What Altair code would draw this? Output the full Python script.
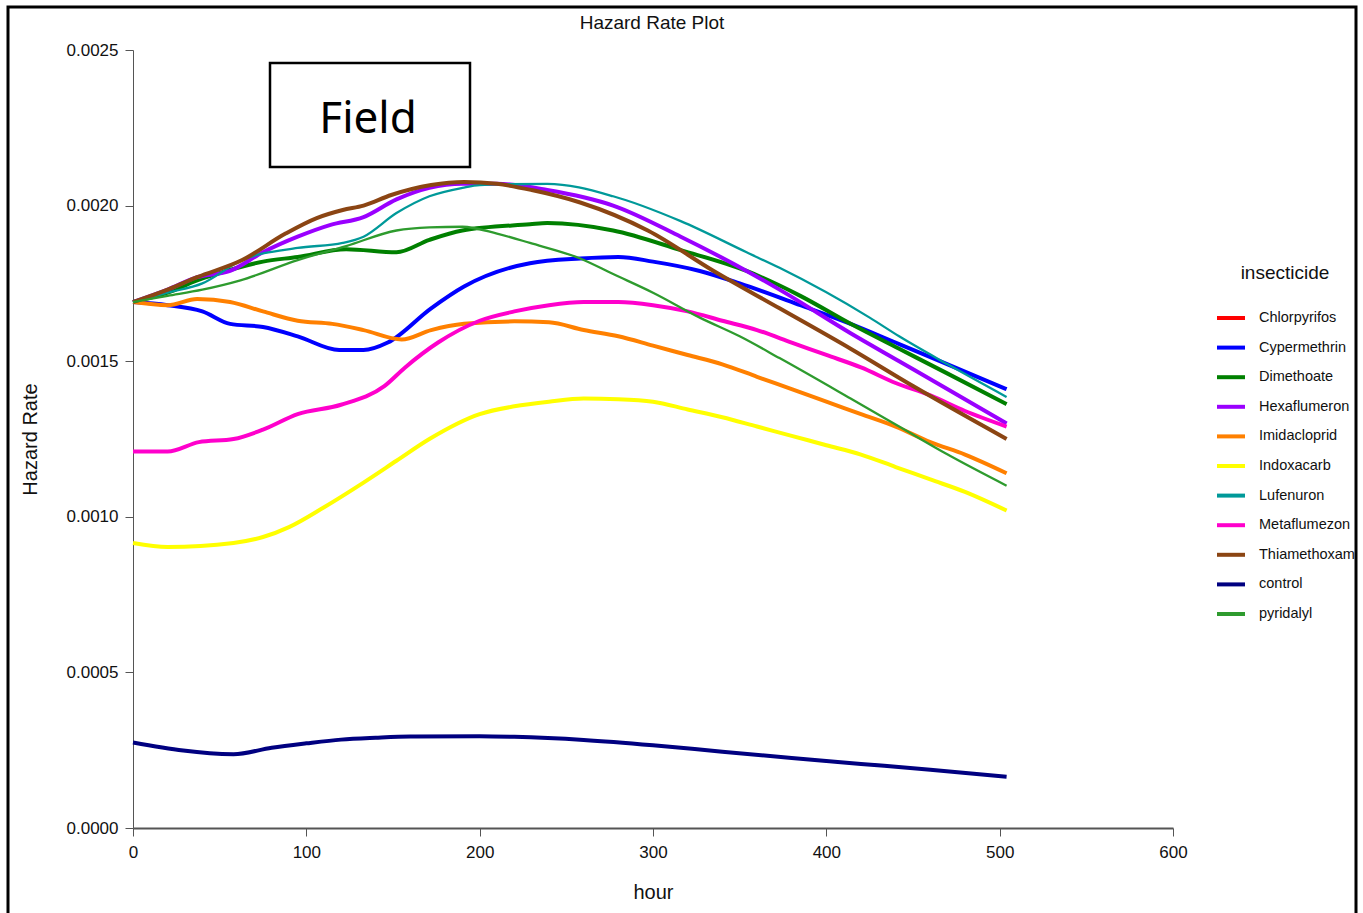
import altair as alt
import pandas as pd

# ---- data ----
series_names = ["Chlorpyrifos", "Cypermethrin", "Dimethoate", "Hexaflumeron",
                "Imidacloprid", "Indoxacarb", "Lufenuron", "Metaflumezon",
                "Thiamethoxam", "control", "pyridalyl"]
series_colors = ["#FF0000", "#0000FF", "#008000", "#9A00FF", "#FF8000", "#FFFF00",
                 "#009999", "#FF00CC", "#8B4513", "#000080", "#2E9B2E"]

cypermethrin_h = [0, 20, 40, 56, 75, 95, 119, 133, 147, 172, 191, 229, 258, 280, 300, 327, 350, 385, 414, 442, 470, 504]
cypermethrin_v = [0.00169, 0.00168, 0.00166, 0.00162, 0.00161, 0.00158, 0.001536, 0.001536, 0.00156, 0.00167, 0.00174,
                  0.001815, 0.00183, 0.001835, 0.00182, 0.00179, 0.00175, 0.00168, 0.00162, 0.001555, 0.00149, 0.00141]

dimethoate_h = [0, 20, 37, 48, 75, 95, 123, 152, 171, 190, 229, 239, 277, 316, 354, 385, 414, 442, 470, 504]
dimethoate_v = [0.00169, 0.00172, 0.00176, 0.00178, 0.00182, 0.001835, 0.00186, 0.00185, 0.00189, 0.00192,
                0.00194, 0.001944, 0.00192, 0.001857, 0.00179, 0.00171, 0.00162, 0.00154, 0.00146, 0.001362]

hexaflumeron_h = [0, 20, 37, 56, 75, 95, 114, 133, 152, 171, 190, 210, 239, 277, 316, 354, 373, 414, 442, 470, 504]
hexaflumeron_v = [0.00169, 0.00173, 0.00177, 0.00179, 0.00185, 0.0019, 0.001938, 0.001963, 0.00202, 0.002057,
                  0.00207, 0.00207, 0.00205, 0.002, 0.0019, 0.00179, 0.00173, 0.00159, 0.0015, 0.00141, 0.0013]

imidacloprid_h = [0, 20, 37, 56, 75, 95, 115, 133, 155, 172, 191, 220, 240, 260, 280, 300, 320, 340, 360, 380, 400, 420, 440, 460, 480, 504]
imidacloprid_v = [0.00169, 0.00168, 0.0017, 0.00169, 0.00166, 0.00163, 0.00162, 0.0016, 0.00157, 0.0016, 0.00162,
                  0.001628, 0.001625, 0.0016, 0.00158, 0.00155, 0.00152, 0.00149, 0.00145, 0.00141, 0.00137,
                  0.00133, 0.00129, 0.00124, 0.0012, 0.00114]

indoxacarb_h = [0, 20, 58, 75, 90, 110, 133, 152, 171, 200, 220, 240, 260, 280, 300, 320, 340, 360, 380, 400, 420, 440, 460, 480, 504]
indoxacarb_v = [0.000916, 0.000903, 0.000916, 0.000935, 0.000967, 0.00103, 0.00111, 0.00118, 0.00125, 0.00133,
                0.001355, 0.00137, 0.00138, 0.001378, 0.00137, 0.001345, 0.00132, 0.00129, 0.00126, 0.00123,
                0.0012, 0.00116, 0.00112, 0.00108, 0.00102]

lufenuron_h = [0, 20, 40, 63, 95, 121, 133, 152, 171, 190, 200, 239, 277, 316, 354, 373, 425, 442, 470, 504]
lufenuron_v = [0.00169, 0.00172, 0.00175, 0.001825, 0.001864, 0.00188, 0.0019, 0.001976, 0.00203, 0.002057,
               0.002066, 0.00207, 0.00203, 0.00195, 0.00185, 0.0018, 0.00164, 0.00158, 0.00149, 0.001385]

metaflumezon_h = [0, 20, 38, 58, 75, 95, 120, 145, 157, 176, 200, 220, 240, 260, 280, 300, 320, 340, 360, 380, 400, 420, 440, 460, 480, 504]
metaflumezon_v = [0.00121, 0.00121, 0.00124, 0.00125, 0.00128, 0.00133, 0.00136, 0.00142, 0.00148, 0.00156,
                  0.00163, 0.00166, 0.00168, 0.00169, 0.00169, 0.00168, 0.00166, 0.00163, 0.0016, 0.00156,
                  0.00152, 0.00148, 0.00143, 0.00139, 0.00134, 0.00129]

thiamethoxam_h = [0, 20, 37, 63, 88, 106, 121, 133, 149, 172, 191, 210, 230, 258, 297, 335, 373, 414, 450, 504]
thiamethoxam_v = [0.00169, 0.00173, 0.00177, 0.001825, 0.00191, 0.00196, 0.001986, 0.002, 0.002034, 0.002066,
                  0.002076, 0.00207, 0.00205, 0.00201, 0.00192, 0.00179, 0.00167, 0.00154, 0.00142, 0.00125]

control_h = [0, 58, 80, 100, 120, 140, 160, 200, 220, 260, 300, 340, 380, 420, 460, 504]
control_v = [0.000275, 0.000237, 0.000258, 0.000272, 0.000284, 0.00029, 0.000294, 0.000295, 0.000293,
             0.000283, 0.000266, 0.000245, 0.000225, 0.000206, 0.000187, 0.000165]

pyridalyl_h = [0, 20, 40, 62, 95, 123, 152, 171, 190, 210, 229, 258, 277, 300, 327, 350, 373, 414, 442, 470, 504]
pyridalyl_v = [0.00169, 0.00171, 0.00173, 0.00176, 0.001825, 0.00187, 0.00192, 0.00193, 0.001932, 0.00191,
               0.00188, 0.00183, 0.00178, 0.00172, 0.00164, 0.00158, 0.00151, 0.00138, 0.00129, 0.0012, 0.0011]

x_ticks = [0, 100, 200, 300, 400, 500, 600]
y_ticks = [0.0, 0.0005, 0.001, 0.0015, 0.002, 0.0025]

# ---- table ----
series = [
    ("Cypermethrin", cypermethrin_h, cypermethrin_v),
    ("Dimethoate", dimethoate_h, dimethoate_v),
    ("Hexaflumeron", hexaflumeron_h, hexaflumeron_v),
    ("Imidacloprid", imidacloprid_h, imidacloprid_v),
    ("Indoxacarb", indoxacarb_h, indoxacarb_v),
    ("Lufenuron", lufenuron_h, lufenuron_v),
    ("Metaflumezon", metaflumezon_h, metaflumezon_v),
    ("Thiamethoxam", thiamethoxam_h, thiamethoxam_v),
    ("control", control_h, control_v),
    ("pyridalyl", pyridalyl_h, pyridalyl_v),
]
rows = []
for order, (name, hs, vs) in enumerate(series):
    for h, v in zip(hs, vs):
        rows.append({"insecticide": name, "hour": h, "rate": v, "ord": order})
df = pd.DataFrame(rows)

FONT = "Liberation Sans, Arial, sans-serif"

W, H = 1040, 778

lines = alt.Chart(df).mark_line(interpolate="monotone", clip=False).encode(
    x=alt.X("hour:Q", title="hour",
            scale=alt.Scale(domain=[0, 600], nice=False, zero=True),
            axis=alt.Axis(values=x_ticks, format="d", grid=False, tickSize=8,
                          labelPadding=8, titlePadding=22, domainWidth=2,
                          labelFlush=False,
                          labelFont=FONT, labelFontSize=17, titleFont=FONT,
                          titleFontSize=20, titleFontWeight="normal")),
    y=alt.Y("rate:Q", title="Hazard Rate",
            scale=alt.Scale(domain=[0, 0.0025], nice=False),
            axis=alt.Axis(values=y_ticks, format=".4f", grid=False, tickSize=8,
                          labelPadding=7, titlePadding=26,
                          labelFont=FONT, labelFontSize=17, titleFont=FONT,
                          titleFontSize=20, titleFontWeight="normal")),
    color=alt.Color("insecticide:N", title="insecticide",
                    scale=alt.Scale(domain=series_names, range=series_colors),
                    legend=alt.Legend(orient="none", legendX=1082, legendY=214,
                                      symbolType="stroke", symbolSize=784,
                                      symbolStrokeWidth=4, rowPadding=5.6,
                                      labelOffset=12, titlePadding=19,
                                      titleAnchor="middle",
                                      labelFont=FONT, labelFontSize=14.5,
                                      titleFont=FONT, titleFontSize=19,
                                      titleFontWeight="normal")),
    strokeWidth=alt.condition(
        alt.FieldOneOfPredicate(field="insecticide", oneOf=["Lufenuron", "pyridalyl"]),
        alt.value(2.3), alt.value(4)),
    order=alt.Order("ord:Q"),
)

one = pd.DataFrame({"k": [0]})

field_box = alt.Chart(one).mark_rect(fill="white", stroke="black", strokeWidth=2.5, clip=False).encode(
    x=alt.value(137), x2=alt.value(337), y=alt.value(13), y2=alt.value(117))
field_text = alt.Chart(one).mark_text(text="Field", font="Noto Sans, Open Sans, sans-serif",
                                      fontSize=44, color="black", align="center",
                                      baseline="middle").encode(
    x=alt.value(235), y=alt.value(70))
title_text = alt.Chart(one).mark_text(text="Hazard Rate Plot", font=FONT, fontSize=19,
                                      color="#111", align="center", baseline="middle").encode(
    x=alt.value(519), y=alt.value(-27))
frame = alt.Chart(one).mark_rect(fill=None, fillOpacity=0, stroke="black", strokeWidth=3, clip=False).encode(
    x=alt.value(-125), x2=alt.value(1223), y=alt.value(-43), y2=alt.value(920))

chart = alt.layer(frame, lines, field_box, field_text, title_text).properties(
    width=W, height=H,
    autosize=alt.AutoSizeParams(type="none"),
    padding={"left": 133, "top": 50, "right": 190, "bottom": 85},
).configure_view(stroke=None).configure_axis(
    domainColor="#555", tickColor="#555", labelColor="#111", titleColor="#111"
).configure_legend(labelColor="#111", titleColor="#111")

chart.save("out.html", embed_options={"renderer": "svg", "actions": False})
